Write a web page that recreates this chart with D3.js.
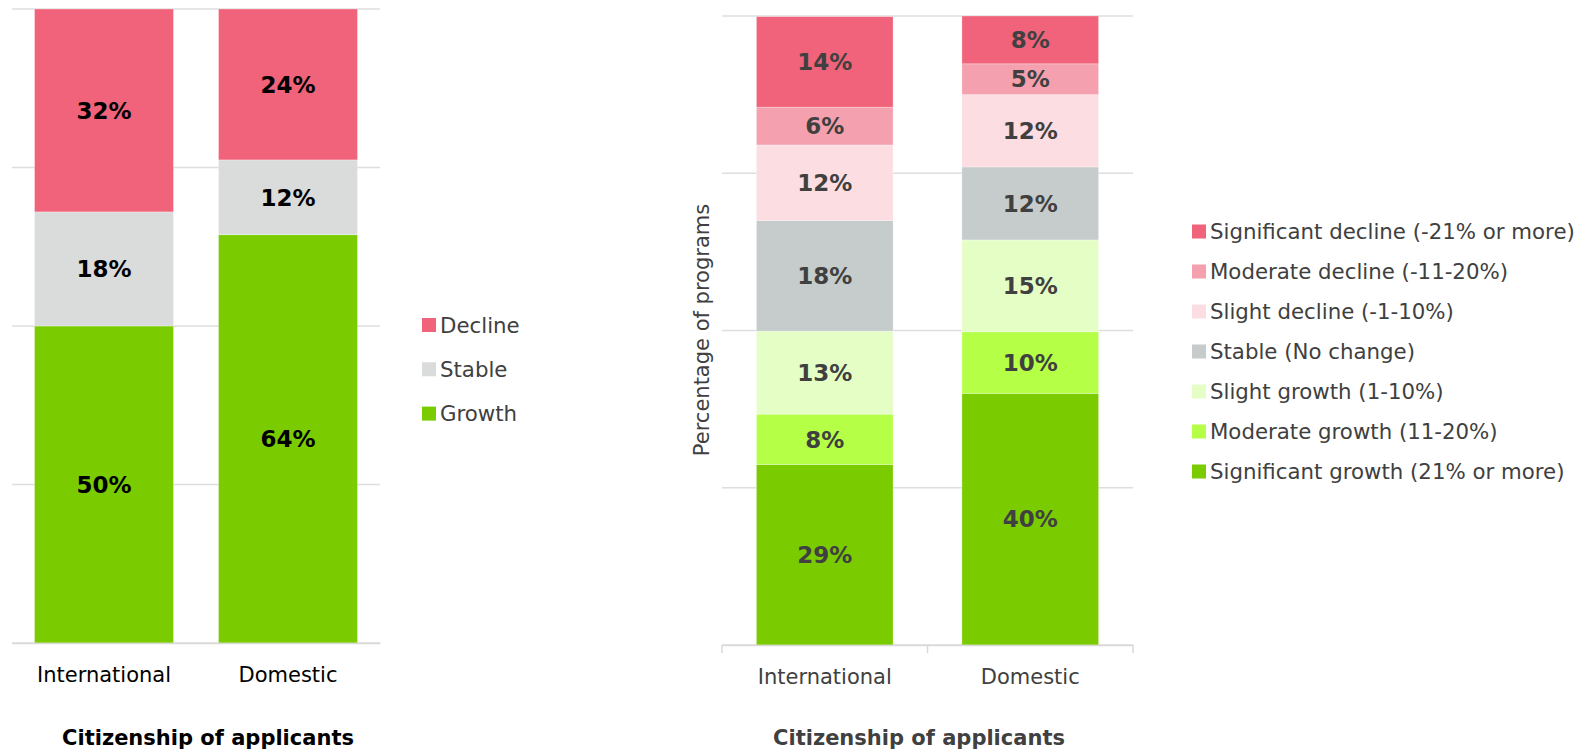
<!DOCTYPE html>
<html>
<head>
<meta charset="utf-8">
<script src="https://cdn.jsdelivr.net/npm/d3@7"></script>
<style>
  html, body { margin: 0; padding: 0; background: #fff; }
  svg { display: block; font-family: "DejaVu Sans", Verdana, sans-serif; }
</style>
</head>
<body>
<svg id="chart" width="1583" height="755"></svg>
<script>
// DATA (percent of programs)
const categories = ["International", "Domestic"];
const gridValues = [0, 25, 50, 75, 100];

const simpleKeys = ["Growth", "Stable", "Decline"];
const simpleInternational = [50, 18, 32];
const simpleDomestic = [64.4, 11.8, 23.8];
const simpleColors = ["#7acc00", "#d9dcdb", "#f0637a"];

const detailKeys = [
  "Significant growth (21% or more)",
  "Moderate growth (11-20%)",
  "Slight growth (1-10%)",
  "Stable (No change)",
  "Slight decline (-1-10%)",
  "Moderate decline (-11-20%)",
  "Significant decline (-21% or more)"
];
const detailInternational = [28.7, 8.0, 13.2, 17.6, 12.0, 6.0, 14.4];
const detailDomestic = [40.0, 9.8, 14.6, 11.6, 11.5, 4.9, 7.6];
const detailColors = ["#7acc00", "#b5ff47", "#e4fec6", "#c5cccb", "#fcdde2", "#f4a0ae", "#f0637a"];

const xTitle = "Citizenship of applicants";
const yTitle = "Percentage of programs";

const svg = d3.select("#chart");

function rowsFor(keys, seriesList) {
  return categories.map((c, i) => {
    const row = { cat: c };
    keys.forEach((k, j) => (row[k] = seriesList[i][j]));
    return row;
  });
}

// draws one stacked panel
function drawPanel(opts) {
  const g = svg.append("g");
  const rows = rowsFor(opts.keys, opts.series);
  const stacked = d3.stack().keys(opts.keys)(rows);

  const x = d3
    .scaleBand()
    .domain(categories)
    .range([opts.x0, opts.x1])
    .paddingInner(opts.pad)
    .paddingOuter(opts.pad / 2);

  const y = d3.scaleLinear().domain([0, 100]).range([opts.yBottom, opts.yTop]);

  // gridlines
  g.append("g")
    .selectAll("line")
    .data(gridValues)
    .join("line")
    .attr("x1", opts.x0)
    .attr("x2", opts.x1)
    .attr("y1", (d) => y(d))
    .attr("y2", (d) => y(d))
    .attr("stroke", "#dedede")
    .attr("stroke-width", 1.5);

  const color = d3.scaleOrdinal().domain(opts.keys).range(opts.colors);

  const layer = g
    .selectAll("g.layer")
    .data(stacked)
    .join("g")
    .attr("class", "layer")
    .attr("fill", (d) => color(d.key));

  layer
    .selectAll("rect")
    .data((d) => d)
    .join("rect")
    .attr("x", (d) => x(d.data.cat))
    .attr("width", x.bandwidth())
    .attr("y", (d) => y(d[1]))
    .attr("height", (d) => y(d[0]) - y(d[1]))
    .attr("stroke", "#fff")
    .attr("stroke-opacity", 0.35)
    .attr("stroke-width", 0.8);

  // value labels
  layer
    .selectAll("text")
    .data((d) => d)
    .join("text")
    .attr("x", (d) => x(d.data.cat) + x.bandwidth() / 2)
    .attr("y", (d) => (y(d[0]) + y(d[1])) / 2)
    .attr("dy", "0.36em")
    .attr("text-anchor", "middle")
    .style("font-size", "23px")
    .style("font-weight", "bold")
    .style("fill", opts.labelColor)
    .text((d) => Math.round(d[1] - d[0]) + "%");

  // x axis
  const axis = g
    .append("g")
    .attr("transform", `translate(0,${opts.yBottom})`)
    .call(d3.axisBottom(x).tickSize(0).tickPadding(16));
  axis.select(".domain").attr("stroke", "#d9d9d9").attr("stroke-width", 1.5);
  axis
    .selectAll(".tick text")
    .style("font-size", "21px")
    .style("font-family", "DejaVu Sans, Verdana, sans-serif")
    .style("fill", opts.textColor)
    .attr("dy", "1.1em");

  if (opts.ticks) {
    const edges = [opts.x0, (opts.x0 + opts.x1) / 2, opts.x1];
    g.append("g")
      .selectAll("line")
      .data(edges)
      .join("line")
      .attr("x1", (d) => d)
      .attr("x2", (d) => d)
      .attr("y1", opts.yBottom)
      .attr("y2", opts.yBottom + 8)
      .attr("stroke", "#d9d9d9")
      .attr("stroke-width", 1.5);
  }

  // axis title
  g.append("text")
    .attr("x", opts.titleX)
    .attr("y", 745)
    .attr("text-anchor", "middle")
    .style("font-size", "21px")
    .style("font-weight", "bold")
    .style("fill", opts.textColor)
    .text(xTitle);

  // legend (top of stack first)
  const legend = g
    .append("g")
    .attr("transform", `translate(${opts.legendX},${opts.legendY})`);
  const legendItems = legend
    .selectAll("g")
    .data(opts.keys.slice().reverse())
    .join("g")
    .attr("transform", (d, i) => `translate(0,${i * opts.legendStep})`);
  legendItems
    .append("rect")
    .attr("x", 0)
    .attr("y", -7)
    .attr("width", 14)
    .attr("height", 14)
    .attr("fill", (d) => color(d));
  legendItems
    .append("text")
    .attr("x", 18)
    .attr("y", 0)
    .attr("dy", "0.36em")
    .style("font-size", "21.3px")
    .style("fill", "#404040")
    .text((d) => d);

  return { x, y };
}

drawPanel({
  keys: simpleKeys,
  series: [simpleInternational, simpleDomestic],
  colors: simpleColors,
  x0: 12,
  x1: 380,
  pad: 0.245,
  yTop: 9,
  yBottom: 643,
  labelColor: "#000",
  textColor: "#000",
  ticks: false,
  titleX: 208,
  legendX: 422,
  legendY: 325,
  legendStep: 44.3
});

drawPanel({
  keys: detailKeys,
  series: [detailInternational, detailDomestic],
  colors: detailColors,
  x0: 722,
  x1: 1133,
  pad: 0.335,
  yTop: 16,
  yBottom: 645,
  labelColor: "#404040",
  textColor: "#404040",
  ticks: true,
  titleX: 919,
  legendX: 1192,
  legendY: 231.5,
  legendStep: 40
});

// y axis title of right panel
svg
  .append("text")
  .attr("transform", "translate(709,330) rotate(-90)")
  .attr("text-anchor", "middle")
  .style("font-size", "21px")
  .style("fill", "#404040")
  .text(yTitle);
</script>
</body>
</html>
